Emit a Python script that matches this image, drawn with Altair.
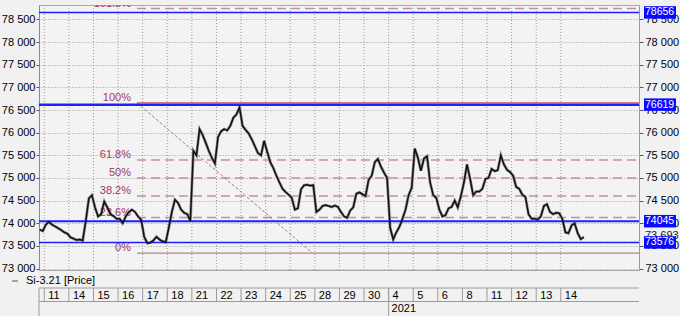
import altair as alt
import pandas as pd

FONT = "Liberation Sans"
W, H = 600, 265

# ---------------- data ----------------
days = ["11", "14", "15", "16", "17", "18", "21", "22", "23", "24", "25", "28",
        "29", "30", "4", "5", "6", "8", "11", "12", "13", "14"]
year_label = "2021"
year_start_index = 14

y_ticks = [73000, 73500, 74000, 74500, 75000, 75500, 76000, 76500,
           77000, 77500, 78000, 78500]

# tail of the previous session (last two of eight slots)
pre_close = [73860, 73830]
# eight sampled closes per trading day
closes = [
    [73970, 74030, 73970, 73930, 73890, 73850, 73800, 73770],  # 11
    [73690, 73660, 73630, 73640, 73620, 74050, 74550, 74620],  # 14
    [74350, 74150, 74200, 74480, 74350, 74200, 74160, 74100],  # 15
    [74100, 74000, 74150, 74250, 74300, 74250, 74150, 74080],  # 16
    [73700, 73560, 73570, 73620, 73700, 73640, 73600, 73580],  # 17
    [73900, 74250, 74520, 74450, 74300, 74230, 74200, 74050],  # 18
    [75600, 75500, 76080, 75950, 75780, 75600, 75450, 75320],  # 21
    [75900, 76030, 76080, 76050, 76150, 76330, 76400, 76560],  # 22
    [76150, 76060, 75980, 75850, 75700, 75550, 75500, 75820],  # 23
    [75580, 75350, 75220, 75050, 74900, 74760, 74690, 74630],  # 24
    [74560, 74300, 74330, 74750, 74840, 74850, 74830, 74840],  # 25
    [74250, 74300, 74380, 74400, 74380, 74360, 74390, 74360],  # 28
    [74250, 74150, 74120, 74280, 74350, 74650, 74680, 74640],  # 29
    [74600, 74960, 75050, 75350, 75420, 75250, 75120, 75000],  # 30
    [73900, 73640, 73800, 73920, 74100, 74300, 74620, 74780],  # 4
    [75650, 75450, 75160, 75430, 75480, 74900, 74620, 74560],  # 5
    [74300, 74150, 74180, 74330, 74360, 74500, 74350, 74600],  # 6
    [74900, 75300, 74980, 74620, 74700, 74700, 74760, 74980],  # 8
    [75000, 75200, 75150, 75170, 75500, 75300, 75180, 75130],  # 11
    [75050, 74800, 74760, 74630, 74580, 74200, 74100, 74100],  # 12
    [74080, 74150, 74380, 74420, 74250, 74200, 74230, 74220],  # 13
    [74100, 73800, 73780, 73950, 74000, 73780, 73650, 73693],  # 14
]
last_price = 73693
last_price_label = "73 693"

fib_labels = ["0%", "23.6%", "38.2%", "50%", "61.8%", "100%", "161.8%"]
fib_values = [73340, 74125, 74600, 75000, 75395, 76660, 78740]
fib_dashed = [False, True, True, True, True, False, True]
fib_start_t = 3.77
fib_end_t = 10.9

blue_levels = [78656, 76619, 74045, 73576]
blue_widths = [1.5, 2.5, 2.0, 1.5]

legend_text = "Si-3.21 [Price]"

# ---------------- tables ----------------
rows = []
for k, v in enumerate(pre_close):
    rows.append({"t": -1 + (6 + k + 0.5) / 8, "price": v})
for d, vals in enumerate(closes):
    for k, v in enumerate(vals):
        rows.append({"t": d + (k + 0.5) / len(vals), "price": v})
price_df = pd.DataFrame(rows)

day_df = pd.DataFrame({"t": list(range(len(days))), "label": days})
fib_df = pd.DataFrame({"label": fib_labels, "v": fib_values, "dashed": fib_dashed,
                       "t0": fib_start_t, "t1": 24.2})
blue_df = pd.DataFrame({"v": blue_levels, "w": blue_widths,
                        "txt": [str(b) for b in blue_levels]})

X = alt.Scale(domain=[-0.215, 24.18], nice=False, zero=False)


def Y():
    return alt.Scale(domain=[72967, 78820], nice=False, zero=False)


label_expr = "replace(format(datum.value, ','), ',', ' ')"

# vertical day gridlines
vgrid = alt.Chart(day_df).mark_rule(color="#9a9a9a", strokeDash=[1, 2], strokeWidth=1).encode(
    x=alt.X("t:Q", scale=X, axis=None), y=alt.value(0), y2=alt.value(H))

# right axis carrier (invisible)
right_axis = alt.Chart(pd.DataFrame({"v": y_ticks})).mark_point(opacity=0).encode(
    x=alt.value(0),
    y=alt.Y("v:Q", scale=Y(), axis=alt.Axis(
        orient="right", values=y_ticks, labelExpr=label_expr, grid=False,
        tickSize=4, labelPadding=2, domainColor="#9a9a9a", tickColor="#555",
        labelFont=FONT, labelFontSize=11, labelColor="#000", title=None)))

# fibonacci lines
fib_dash = alt.Chart(fib_df).transform_filter("datum.dashed").mark_rule(
    color="#c78da1", strokeWidth=1.5, strokeDash=[9, 5], clip=True).encode(
    x=alt.X("t0:Q", scale=X, axis=None), x2="t1:Q",
    y=alt.Y("v:Q", scale=Y(), axis=None))
fib_solid = alt.Chart(fib_df).transform_filter("!datum.dashed").mark_rule(
    clip=True).encode(
    x=alt.X("t0:Q", scale=X, axis=None), x2="t1:Q",
    y=alt.Y("v:Q", scale=Y(), axis=None),
    color=alt.Color("label:N", scale=alt.Scale(domain=["0%", "100%"],
                                               range=["#9c6b7e", "#c98088"]), legend=None),
    strokeWidth=alt.StrokeWidth("label:N", scale=alt.Scale(domain=["0%", "100%"],
                                                           range=[1, 1.5]), legend=None))
diag_df = pd.DataFrame({"ta": [fib_start_t], "tb": [fib_end_t],
                        "va": [fib_values[5]], "vb": [fib_values[0]]})
diag = alt.Chart(diag_df).mark_rule(color="#b8708a", strokeWidth=1, strokeDash=[3, 2]).encode(
    x=alt.X("ta:Q", scale=X, axis=None), x2="tb:Q",
    y=alt.Y("va:Q", scale=Y(), axis=None), y2="vb:Q")
fib_text = alt.Chart(fib_df).mark_text(
    align="right", baseline="alphabetic", dx=-6, dy=-2, font=FONT, fontSize=11,
    color="#a2375f", clip=True).encode(
    x=alt.X("t0:Q", scale=X, axis=None), y=alt.Y("v:Q", scale=Y(), axis=None), text="label:N")

# blue levels
blue_lines = alt.Chart(blue_df).mark_rule(color="#1e1eff").encode(
    x=alt.value(0), x2=alt.value(W),
    y=alt.Y("v:Q", scale=Y(), axis=None),
    strokeWidth=alt.StrokeWidth("w:Q", scale=None, legend=None))

# price line with left axis
price_shadow = alt.Chart(price_df).mark_line(color="#8c8c8c", strokeWidth=2.8, clip=True).encode(
    x=alt.X("t:Q", scale=X, axis=None),
    y=alt.Y("price:Q", scale=Y(), axis=alt.Axis(
        orient="left", values=y_ticks, labelExpr=label_expr, grid=True,
        gridDash=[1, 2], gridColor="#9a9a9a", gridWidth=1, tickSize=3,
        labelPadding=1, domainColor="#8a8a8a", tickColor="#555",
        labelFont=FONT, labelFontSize=11, labelColor="#000", title=None)))
price_line = alt.Chart(price_df).mark_line(color="#111111", strokeWidth=1.5, clip=True).encode(
    x=alt.X("t:Q", scale=X, axis=None), y=alt.Y("price:Q", scale=Y(), axis=None))

# right-hand labels
last_txt = alt.Chart(pd.DataFrame({"v": [last_price], "s": [last_price_label]})).mark_text(
    align="left", baseline="middle", dy=-1, font=FONT, fontSize=11, color="#222").encode(
    x=alt.value(606), y=alt.Y("v:Q", scale=Y(), axis=None), text="s:N")
blue_box = alt.Chart(blue_df).transform_calculate(
    lo="datum.v - 138", hi="datum.v + 138").mark_rect(color="#0a0aff").encode(
    x=alt.value(605), x2=alt.value(637),
    y=alt.Y("lo:Q", scale=Y(), axis=None), y2="hi:Q")
blue_txt = alt.Chart(blue_df).mark_text(
    align="left", baseline="middle", font=FONT, fontSize=10.5, color="white").encode(
    x=alt.value(606), y=alt.Y("v:Q", scale=Y(), axis=None), text="txt:N")

# bottom date strip
strip_col = "#9a9a9a"
day_seps = alt.Chart(day_df).mark_rule(color=strip_col).encode(
    x=alt.X("t:Q", scale=X, axis=None), y=alt.value(283), y2=alt.value(296.5))
year_sep = alt.Chart(pd.DataFrame({"t": [year_start_index]})).mark_rule(color=strip_col).encode(
    x=alt.X("t:Q", scale=X, axis=None), y=alt.value(283), y2=alt.value(311))
left_sep = alt.Chart(pd.DataFrame({"a": [0]})).mark_rule(color=strip_col).encode(
    x=alt.value(0), y=alt.value(283), y2=alt.value(311))
top_line = alt.Chart(pd.DataFrame({"a": [0]})).mark_rule(color=strip_col).encode(
    x=alt.value(0), x2=alt.value(W), y=alt.value(283))
bot_line = alt.Chart(pd.DataFrame({"a": [0]})).mark_rule(color=strip_col).encode(
    x=alt.value(0), x2=alt.value(W), y=alt.value(296.5))
day_txt = alt.Chart(day_df).mark_text(
    align="left", baseline="middle", dx=4, font=FONT, fontSize=11, color="#000").encode(
    x=alt.X("t:Q", scale=X, axis=None), y=alt.value(291), text="label:N")
year_txt = alt.Chart(pd.DataFrame({"t": [year_start_index], "s": [year_label]})).mark_text(
    align="left", baseline="middle", dx=3, font=FONT, fontSize=11, color="#000").encode(
    x=alt.X("t:Q", scale=X, axis=None), y=alt.value(303.5), text="s:N")

# legend
leg_line = alt.Chart(pd.DataFrame({"a": [0]})).mark_rule(color="#555", strokeWidth=1).encode(
    x=alt.value(-27), x2=alt.value(-21), y=alt.value(276))
leg_txt = alt.Chart(pd.DataFrame({"s": [legend_text]})).mark_text(
    align="left", baseline="middle", font=FONT, fontSize=11, color="#000").encode(
    x=alt.value(-13), y=alt.value(276), text="s:N")

chart = alt.layer(
    vgrid, price_shadow, right_axis, fib_dash, fib_solid, diag, fib_text, blue_lines,
    price_line, last_txt, blue_box, blue_txt,
    day_seps, year_sep, left_sep, top_line, bot_line, day_txt, year_txt,
    leg_line, leg_txt,
).resolve_scale(y="independent").properties(
    width=W, height=H,
    autosize=alt.AutoSizeParams(type="none"),
    padding={"left": 39, "top": 5, "right": 41, "bottom": 46},
    background="#f1f1f1",
).configure_view(stroke="#a8a8a8", strokeWidth=1, fill="#f3f3f3")

chart.save("out.html", embed_options={"renderer": "svg", "actions": False})
